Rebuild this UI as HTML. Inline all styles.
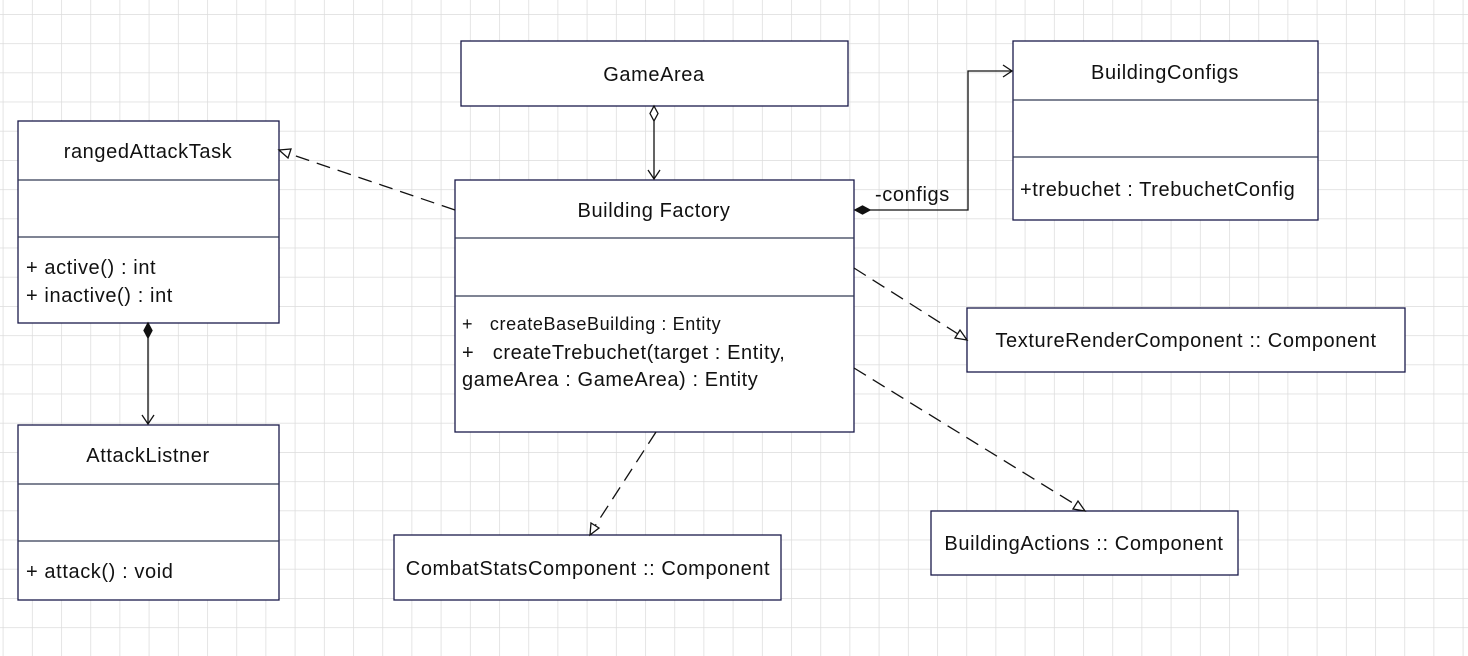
<!DOCTYPE html>
<html><head><meta charset="utf-8"><style>
html,body{margin:0;padding:0;background:#fff;}
svg{display:block;}
text{font-family:"Liberation Sans","DejaVu Sans",sans-serif;fill:#111;letter-spacing:0.6px;}
</style></head><body>
<svg width="1468" height="656" viewBox="0 0 1468 656" xmlns="http://www.w3.org/2000/svg">
<defs>
<pattern id="g" x="2.7" y="14" width="29.2" height="29.2" patternUnits="userSpaceOnUse">
<path d="M0 0V29.2M0 0H29.2" stroke="#dcdcdc" stroke-width="1.5" fill="none"/>
</pattern>
</defs>
<rect width="1468" height="656" fill="url(#g)"/>
<g stroke="#1a1a4a" stroke-width="1.3" fill="#fff">
<rect x="461" y="41" width="387" height="65"/>
<rect x="1013" y="41" width="305" height="179"/>
<rect x="18" y="121" width="261" height="202"/>
<rect x="455" y="180" width="399" height="252"/>
<rect x="18" y="425" width="261" height="175"/>
<rect x="967" y="308" width="438" height="64"/>
<rect x="394" y="535" width="387" height="65"/>
<rect x="931" y="511" width="307" height="64"/>
</g>
<g stroke="#333a55" stroke-width="1.3">
<line x1="1013" y1="100" x2="1318" y2="100"/><line x1="1013" y1="157" x2="1318" y2="157"/>
<line x1="18" y1="180" x2="279" y2="180"/><line x1="18" y1="237" x2="279" y2="237"/>
<line x1="455" y1="238" x2="854" y2="238"/><line x1="455" y1="296" x2="854" y2="296"/>
<line x1="18" y1="484" x2="279" y2="484"/><line x1="18" y1="541" x2="279" y2="541"/>
</g>
<g font-size="20" text-anchor="middle">
<text x="654" y="81">GameArea</text>
<text x="1165" y="79">BuildingConfigs</text>
<text x="148" y="158">rangedAttackTask</text>
<text x="654" y="217">Building Factory</text>
<text x="148" y="462">AttackListner</text>
<text x="1186" y="347">TextureRenderComponent :: Component</text>
<text x="588" y="575">CombatStatsComponent :: Component</text>
<text x="1084" y="550">BuildingActions :: Component</text>
</g>
<g font-size="20">
<text x="1020" y="196">+trebuchet : TrebuchetConfig</text>
<text x="26" y="274">+ active() : int</text>
<text x="26" y="302">+ inactive() : int</text>
<text x="26" y="578">+ attack() : void</text>
<text x="462" y="330" font-size="18">+&#160;&#160;&#160;createBaseBuilding : Entity</text>
<text x="462" y="359">+&#160;&#160;&#160;createTrebuchet(target : Entity,</text>
<text x="462" y="386">gameArea : GameArea) : Entity</text>
<text x="875" y="201">-configs</text>
</g>
<g stroke="#111" stroke-width="1.3" fill="none">
<line x1="654" y1="121" x2="654" y2="179"/>
<path d="M654 106 L658 113.5 L654 121 L650 113.5Z" fill="#fff"/>
<path d="M648 170 L654 179 L660 170"/>
<line x1="148" y1="338" x2="148" y2="424"/>
<path d="M148 323 L152 330.5 L148 338 L144 330.5Z" fill="#111"/>
<path d="M142 415 L148 424 L154 415"/>
<path d="M870 210 H968 V71 H1012"/>
<path d="M855 210 L862.5 206 L870 210 L862.5 214Z" fill="#111"/>
<path d="M1003 65 L1012 71 L1003 77"/>
<g stroke-dasharray="14 8">
<line x1="455" y1="210" x2="290" y2="154"/>
<line x1="854" y1="268" x2="958" y2="334"/>
<line x1="854" y1="368" x2="1076" y2="505"/>
<line x1="656" y1="432" x2="595" y2="526"/>
</g>
<path d="M279 150 L291 149 L288 158Z" fill="#fff"/>
<path d="M967 340 L955 338 L960 330Z" fill="#fff"/>
<path d="M1085 511 L1073 509 L1078 501Z" fill="#fff"/>
<path d="M590 535 L591 523 L599 528Z" fill="#fff"/>
</g>
</svg>
</body></html>
